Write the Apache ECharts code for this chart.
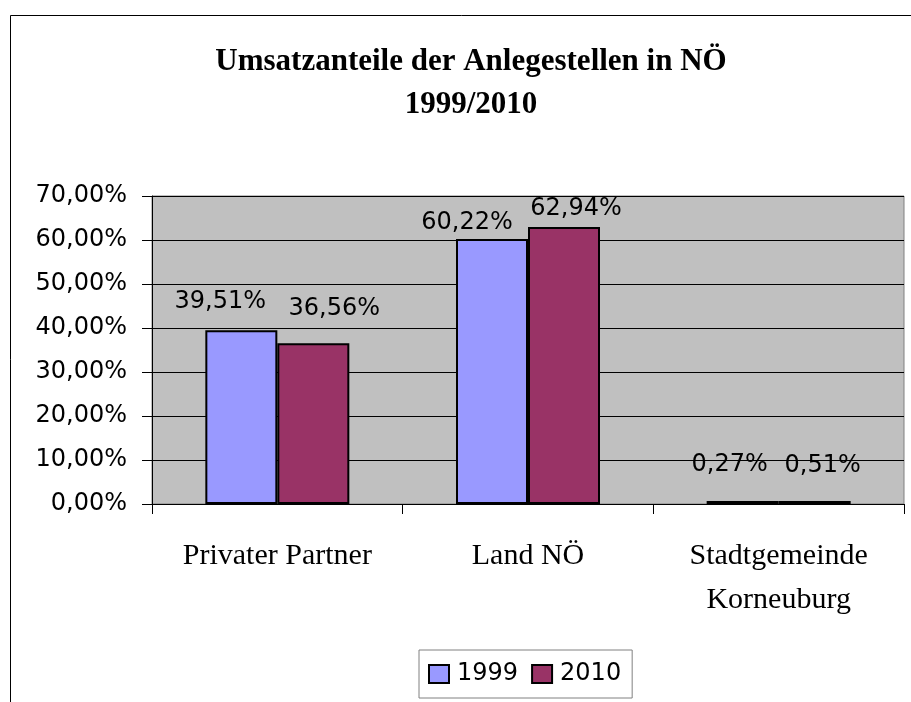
<!DOCTYPE html>
<html>
<head>
<meta charset="utf-8">
<script src="https://cdn.jsdelivr.net/npm/echarts@6/dist/echarts.min.js"></script>
<style>
html,body{margin:0;padding:0;background:#fff;}
#chart{width:911px;height:702px;}
</style>
</head>
<body>
<div id="chart"></div>
<script>
// Data
var categories = ['Privater Partner', 'Land NÖ', 'Stadtgemeinde\nKorneuburg'];
var seriesNames = ['1999', '2010'];
var values1999 = [39.51, 60.22, 0.27];
var values2010 = [36.56, 62.94, 0.51];
var yTicks = [0, 10, 20, 30, 40, 50, 60, 70];

// label placement tweaks (styling, not data)
var labelOffsets1999 = [[-21, -11], [-25, 1], [-13, -19]];
var labelOffsets2010 = [[21, -17], [12, -1], [8, -18]];

function fmt(v) { return v.toFixed(2).replace('.', ',') + '%'; }

function buildData(vals, offs) {
  return vals.map(function (v, i) {
    return { value: v, label: { offset: offs[i] } };
  });
}

var chart = echarts.init(document.getElementById('chart'), null, { renderer: 'canvas' });

var labelStyle = {
  show: true,
  position: 'top',
  distance: 5,
  fontFamily: 'DejaVu Sans',
  fontSize: 24,
  color: '#000',
  formatter: function (p) { return fmt(p.value); }
};

var option = {
  backgroundColor: '#fff',
  animation: false,
  graphic: [{
    type: 'rect',
    shape: { x: 10.5, y: 15.5, width: 1000, height: 1000 },
    style: { fill: 'none', stroke: '#000', lineWidth: 1 },
    silent: true
  }],
  title: {
    text: 'Umsatzanteile der Anlegestellen in NÖ\n1999/2010',
    left: 466,
    textAlign: 'center',
    top: 35,
    textStyle: {
      fontFamily: 'Liberation Serif',
      fontWeight: 'bold',
      fontSize: 31,
      lineHeight: 43,
      color: '#000'
    }
  },
  legend: {
    data: seriesNames,
    left: 419,
    top: 650,
    padding: [12, 11, 12, 9],
    itemWidth: 20,
    itemHeight: 18,
    itemGap: 13,
    backgroundColor: '#fff',
    borderColor: '#808080',
    borderWidth: 1,
    icon: 'rect',
    textStyle: {
      fontFamily: 'DejaVu Sans',
      fontSize: 24,
      color: '#000',
      padding: [0, 0, 0, 3]
    }
  },
  grid: {
    left: 152,
    top: 196,
    right: 7,
    bottom: 198,
    show: true,
    backgroundColor: '#C0C0C0',
    borderColor: '#808080',
    borderWidth: 1
  },
  xAxis: {
    type: 'category',
    data: categories,
    axisLine: { show: true, lineStyle: { color: '#000', width: 1 } },
    axisTick: { show: true, length: 10, lineStyle: { color: '#000' } },
    axisLabel: {
      interval: 0,
      margin: 30,
      fontFamily: 'Liberation Serif',
      fontSize: 30,
      lineHeight: 44,
      color: '#000'
    },
    splitLine: { show: false }
  },
  yAxis: {
    type: 'value',
    min: yTicks[0],
    max: yTicks[yTicks.length - 1],
    interval: 10,
    axisLine: { show: true, lineStyle: { color: '#000', width: 1 } },
    axisTick: { show: true, length: 10, lineStyle: { color: '#000' } },
    axisLabel: {
      margin: 25,
      fontFamily: 'DejaVu Sans',
      fontSize: 24,
      color: '#000',
      formatter: function (v) { return fmt(v); }
    },
    splitLine: { show: true, lineStyle: { color: '#000', width: 1 } }
  },
  series: [
    {
      name: seriesNames[0],
      type: 'bar',
      barWidth: 72,
      barGap: '0%',
      barMinHeight: 3,
      data: buildData(values1999, labelOffsets1999),
      itemStyle: { color: '#9999FF', borderColor: '#000', borderWidth: 2 },
      label: labelStyle
    },
    {
      name: seriesNames[1],
      type: 'bar',
      barWidth: 72,
      barGap: '0%',
      barMinHeight: 3,
      data: buildData(values2010, labelOffsets2010),
      itemStyle: { color: '#993366', borderColor: '#000', borderWidth: 2 },
      label: labelStyle
    }
  ]
};

chart.setOption(option);
</script>
</body>
</html>
